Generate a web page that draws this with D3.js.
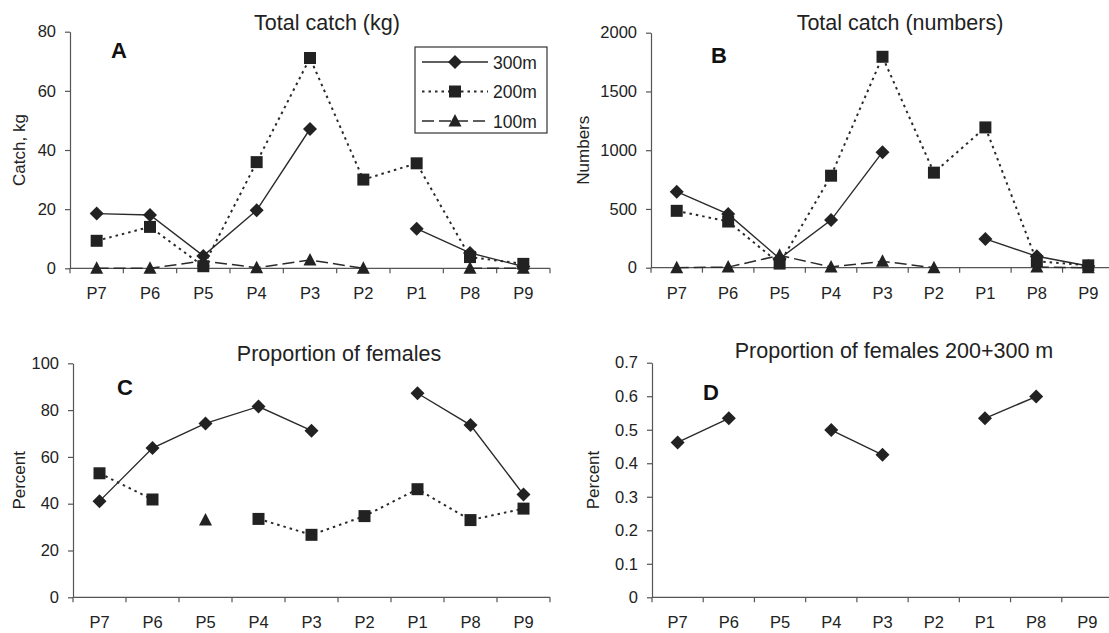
<!DOCTYPE html>
<html>
<head>
<meta charset="utf-8">
<script src="https://cdn.jsdelivr.net/npm/d3@7"></script>
<style>
  html, body { margin: 0; padding: 0; background: #fff; }
  svg { display: block; font-family: "Liberation Sans", Arial, Helvetica, sans-serif; }
</style>
</head>
<body>
<svg id="chart" width="1109" height="633"></svg>
<script>
// ---------- data ----------
const categories = ["P7", "P6", "P5", "P4", "P3", "P2", "P1", "P8", "P9"];
const seriesNames = ["300m", "200m", "100m"];

const kg300 = [18.5, 18.0, 4.2, 19.6, 47.1, null, 13.4, 5.2, 0.6];
const kg200 = [9.3, 14.0, 0.7, 35.9, 71.1, 30.0, 35.5, 3.8, 1.5];
const kg100 = [0, 0, 2.5, 0.2, 2.8, 0, null, 0, 0];

const num300 = [647, 456, 77, 405, 983, null, 245, 97, 14];
const num200 = [484, 393, 35, 783, 1795, 809, 1194, 54, 20];
const num100 = [0, 5, 105, 6, 54, 0, null, 5, 0];

const pct300 = [41.1, 63.8, 74.3, 81.5, 71.2, null, 87.2, 73.6, 43.9];
const pct200 = [53.0, 41.8, null, 33.5, 26.7, 34.7, 46.2, 33.0, 37.9];
const pct100 = [null, null, 33.0, null, null, null, null, null, null];

const prop200300 = [0.462, 0.534, null, 0.499, 0.425, null, 0.534, 0.599, null];

const ticksKg = [0, 20, 40, 60, 80];
const ticksNum = [0, 500, 1000, 1500, 2000];
const ticksPct = [0, 20, 40, 60, 80, 100];
const ticksProp = [0, 0.1, 0.2, 0.3, 0.4, 0.5, 0.6, 0.7];

// ---------- styles ----------
const INK = "#222";
const LINE = "#2a2a2a";
const styles = {
  "300m": { dash: null, width: 1.4, marker: "diamond" },
  "200m": { dash: "2.5,4", width: 2, marker: "square" },
  "100m": { dash: "12,5", width: 1.5, marker: "triangle" }
};

function markerPath(type) {
  if (type === "diamond") return "M0,-7L7,0L0,7L-7,0Z";
  if (type === "square") return "M-6,-6H6V6H-6Z";
  return "M0,-7L6.5,5.5L-6.5,5.5Z";
}

const svg = d3.select("#chart");

function panel(opts) {
  const g = svg.append("g");
  const x = d3.scaleBand().domain(categories).range([opts.x0, opts.x1]).paddingInner(0).paddingOuter(0);
  const y = d3.scaleLinear().domain([opts.ticks[0], opts.ticks[opts.ticks.length - 1]]).range([opts.yb, opts.yt]);
  const cx = c => x(c) + x.bandwidth() / 2;

  // y axis
  const yAxis = d3.axisLeft(y).tickValues(opts.ticks).tickSize(5).tickSizeOuter(0).tickPadding(9)
    .tickFormat(opts.fmt || (d => d));
  const ya = g.append("g").attr("transform", `translate(${opts.x0},0)`).call(yAxis);
  ya.select(".domain").attr("stroke", "#555").attr("stroke-width", 1.2);
  ya.selectAll(".tick line").attr("stroke", "#555").attr("stroke-width", 1.2);
  ya.selectAll(".tick text").attr("fill", INK).style("font-size", "16.5px");

  // x axis: horizontal line + boundary ticks + labels
  const xa = g.append("g");
  xa.append("line").attr("x1", opts.x0).attr("x2", opts.x1).attr("y1", y(0)).attr("y2", y(0))
    .attr("stroke", "#555").attr("stroke-width", 1.2);
  const bounds = categories.map(c => x(c)).concat([x(categories[categories.length - 1]) + x.bandwidth()]);
  xa.selectAll("line.bt").data(bounds).enter().append("line").attr("class", "bt")
    .attr("x1", d => d).attr("x2", d => d).attr("y1", y(0)).attr("y2", y(0) + 5)
    .attr("stroke", "#555").attr("stroke-width", 1.2);
  xa.selectAll("text").data(categories).enter().append("text")
    .attr("x", d => cx(d)).attr("y", y(0) + 31).attr("text-anchor", "middle")
    .attr("fill", INK).style("font-size", "16.5px").text(d => d);

  // titles and labels
  g.append("text").attr("x", opts.titleX).attr("y", opts.titleY).attr("text-anchor", "middle")
    .attr("fill", INK).style("font-size", "21.5px").text(opts.title);
  g.append("text").attr("transform", `translate(${opts.ylabX},${(opts.yt + opts.yb) / 2}) rotate(-90)`)
    .attr("text-anchor", "middle").attr("fill", INK).style("font-size", "17px").text(opts.ylab);
  g.append("text").attr("x", opts.letterX).attr("y", opts.letterY).attr("fill", "#111")
    .style("font-size", "22px").style("font-weight", "bold").text(opts.letter);

  // series
  opts.series.forEach(s => {
    const st = styles[s.name];
    const pts = categories.map((c, i) => ({ c, v: s.values[i] }));
    const line = d3.line().defined(d => d.v != null).x(d => cx(d.c)).y(d => y(d.v));
    g.append("path").datum(pts).attr("d", line).attr("fill", "none")
      .attr("stroke", LINE).attr("stroke-width", st.width)
      .attr("stroke-dasharray", st.dash);
    g.selectAll(null).data(pts.filter(d => d.v != null)).enter().append("path")
      .attr("d", markerPath(st.marker))
      .attr("transform", d => `translate(${cx(d.c)},${y(d.v)})`)
      .attr("fill", INK);
  });
  return g;
}

panel({
  x0: 70, x1: 550, yt: 31.7, yb: 268.3, ticks: ticksKg,
  title: "Total catch (kg)", titleX: 327, titleY: 30, ylab: "Catch, kg", ylabX: 25,
  letter: "A", letterX: 111, letterY: 58,
  series: [{ name: "300m", values: kg300 }, { name: "200m", values: kg200 }, { name: "100m", values: kg100 }]
});

panel({
  x0: 651, x1: 1114, yt: 32.7, yb: 267.7, ticks: ticksNum,
  title: "Total catch (numbers)", titleX: 900, titleY: 30, ylab: "Numbers", ylabX: 589,
  letter: "B", letterX: 711, letterY: 63,
  series: [{ name: "300m", values: num300 }, { name: "200m", values: num200 }, { name: "100m", values: num100 }]
});

panel({
  x0: 73, x1: 550, yt: 363.3, yb: 597.3, ticks: ticksPct,
  title: "Proportion of females", titleX: 339, titleY: 361, ylab: "Percent", ylabX: 25,
  letter: "C", letterX: 117, letterY: 395,
  series: [{ name: "300m", values: pct300 }, { name: "200m", values: pct200 }, { name: "100m", values: pct100 }]
});

panel({
  x0: 652, x1: 1113, yt: 362.7, yb: 597.3, ticks: ticksProp,
  title: "Proportion of females 200+300 m", titleX: 894, titleY: 358, ylab: "Percent", ylabX: 599,
  letter: "D", letterX: 703, letterY: 400, fmt: d => (d === 0 ? "0" : d3.format(".1f")(d)),
  series: [{ name: "300m", values: prop200300 }]
});

// legend (panel A)
const lg = svg.append("g");
lg.append("rect").attr("x", 415).attr("y", 47).attr("width", 132).attr("height", 86)
  .attr("fill", "#fff").attr("stroke", "#333").attr("stroke-width", 1.2);
seriesNames.forEach((n, i) => {
  const st = styles[n];
  const yy = 62 + i * 29.5;
  lg.append("line").attr("x1", 422).attr("x2", 488).attr("y1", yy).attr("y2", yy)
    .attr("stroke", LINE).attr("stroke-width", st.width).attr("stroke-dasharray", st.dash);
  lg.append("path").attr("d", markerPath(st.marker)).attr("transform", `translate(455,${yy})`).attr("fill", INK);
  lg.append("text").attr("x", 493).attr("y", yy + 6.5).attr("fill", INK).style("font-size", "17.5px").text(n);
});
</script>
</body>
</html>
